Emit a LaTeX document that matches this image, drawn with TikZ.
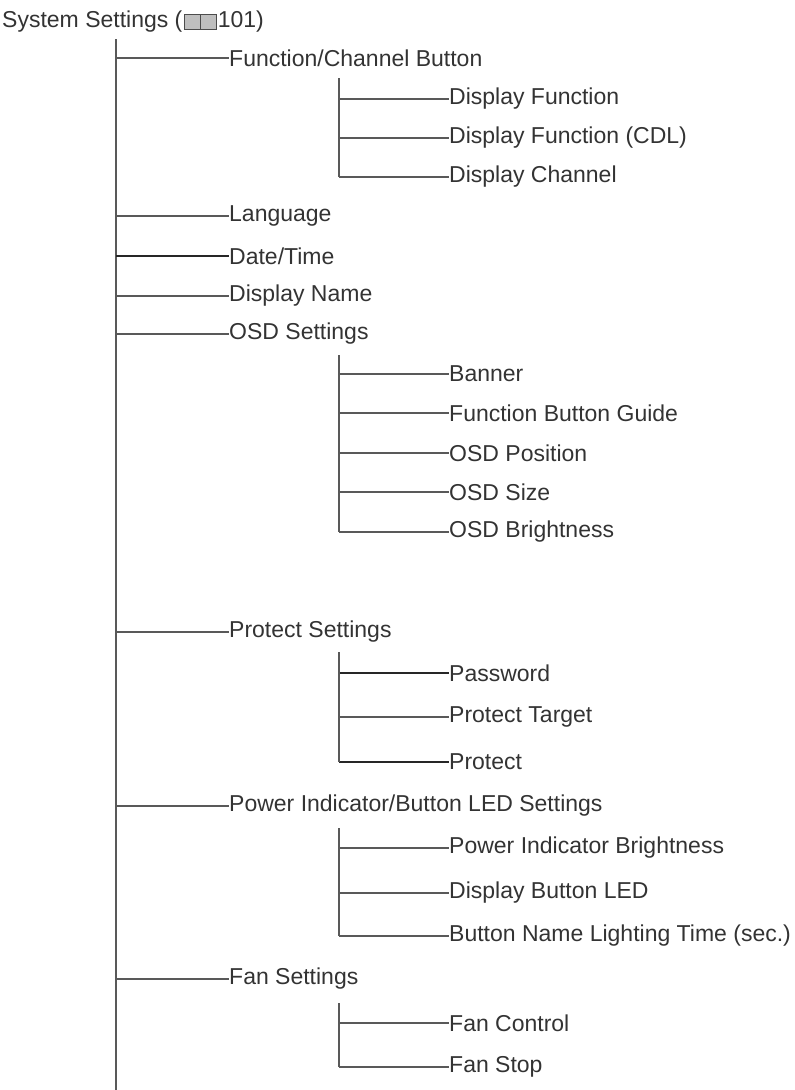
\documentclass[tikz,border=0pt]{standalone}
\usepackage{fontspec}
\setmainfont{Liberation Sans}
\begin{document}
\begin{tikzpicture}[x=1pt,y=-1pt,
  txt/.style={anchor=west,inner sep=0pt,text=black!80,font=\fontsize{23}{23}\selectfont},
  ln/.style={draw=black!65,line width=1.1pt},
  dk/.style={draw=black!85,line width=1.6pt}]
\useasboundingbox (0,0) rectangle (795,1090);
\node[txt] (t1) at (2,22) {System Settings (};
\draw[black!70,line width=1pt,fill=black!25] (t1.east)++(2,-8) rectangle ++(16,15);
\draw[black!70,line width=1pt,fill=black!25] (t1.east)++(18,-8) rectangle ++(16,15);
\node[txt] (t2) at ([xshift=35pt]t1.east) {101)};
\coordinate (top) at (116,39);
\coordinate (bot) at (116,1090);
\draw[ln] (top) -- (bot);
% level 1
\foreach \n/\y/\t/\s in {a/58/Function\slash Channel Button/ln, b/216/Language/ln, c/256/Date\slash Time/dk, d/296/Display Name/ln, e/334/OSD Settings/ln, f/632/Protect Settings/ln, g/806/Power Indicator\slash Button LED Settings/ln, h/979/Fan Settings/ln}{
  \node[txt] (\n) at (229,\y) {\t};
  \coordinate (\n0) at (116,\y);
  \draw[\s] (\n0) -- (\n.west);
}
% level 2
\foreach \n/\y/\t/\s in {a1/99/Display Function/ln, a2/138/Display Function (CDL)/ln, a3/177/Display Channel/ln,
 e1/374/Banner/ln, e2/413/Function Button Guide/ln, e3/453/OSD Position/ln, e4/492/OSD Size/ln, e5/532/OSD Brightness/ln,
 f1/673/Password/dk, f2/717/Protect Target/ln, f3/762/Protect/dk,
 g1/848/Power Indicator Brightness/ln, g2/893/Display Button LED/ln, g3/936/Button Name Lighting Time (sec.)/ln,
 h1/1023/Fan Control/ln, h2/1067/Fan Stop/ln}{
  \node[txt] (\n) at (449,\y) {\t};
  \coordinate (\n0) at (339,\y);
  \draw[\s] (\n0) -- (\n.west);
}
\coordinate (as) at (339,78);
\coordinate (es) at (339,355);
\coordinate (fs) at (339,652);
\coordinate (gs) at (339,828);
\coordinate (hs) at (339,1003);
\draw[ln] (as) -- (a30);
\draw[ln] (es) -- (e50);
\draw[ln] (fs) -- (f30);
\draw[ln] (gs) -- (g30);
\draw[ln] (hs) -- (h20);
\end{tikzpicture}
\end{document}
